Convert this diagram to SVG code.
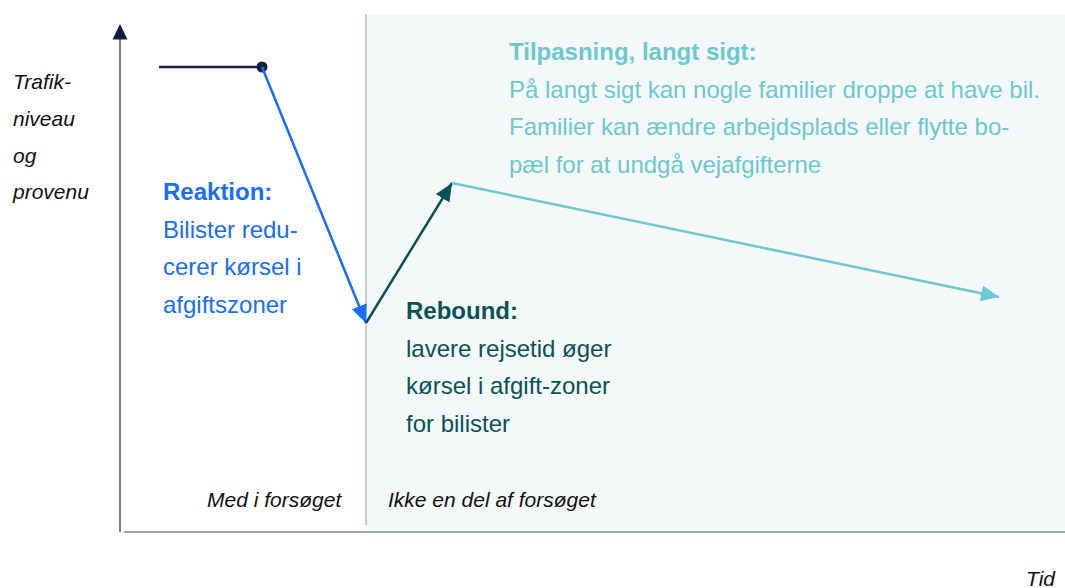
<svg xmlns="http://www.w3.org/2000/svg" width="1065" height="588" viewBox="0 0 1065 588">
<style>
.it{font-family:"Liberation Sans",Arial,sans-serif;font-style:italic;font-size:21px;fill:#111}
.tx{font-family:"Liberation Sans",Arial,sans-serif;font-size:24px}
.b{font-weight:bold}
.blue{fill:#1a6ef5}
.dteal{fill:#0b5257}
.lteal{fill:#6cc9cf}
.ln{fill:none;stroke-width:2.5}
</style>
<defs>
<marker id="mBlue" markerUnits="userSpaceOnUse" markerWidth="20" markerHeight="18" refX="18" refY="8" orient="auto"><path d="M0,0 L18,8 L0,16 Z" fill="#1a6ef5"/></marker>
<marker id="mDteal" markerUnits="userSpaceOnUse" markerWidth="20" markerHeight="18" refX="18" refY="8" orient="auto"><path d="M0,0 L18,8 L0,16 Z" fill="#0b5257"/></marker>
<marker id="mLteal" markerUnits="userSpaceOnUse" markerWidth="20" markerHeight="18" refX="18" refY="8" orient="auto"><path d="M0,0 L18,8 L0,16 Z" fill="#6cc9cf"/></marker>
</defs>
<rect width="1065" height="588" fill="#ffffff"/>
<g id="background">
<rect x="367" y="15" width="698" height="515" fill="#f4f8f9"/>
<line x1="366" y1="14" x2="366" y2="525" stroke="#c8ccd2" stroke-width="2"/>
</g>
<g id="axes">
<line x1="120" y1="38" x2="120" y2="532" stroke="#4f5970" stroke-width="1.5"/>
<path d="M120,24 L127.5,39.5 L112.5,39.5 Z" fill="#0d1b3e"/>
<line x1="124" y1="532" x2="1065" y2="532" stroke="#7d8aa0" stroke-width="1.5"/>
</g>
<g id="connectors">
<line class="ln" x1="159" y1="67" x2="262" y2="67" stroke="#14213d"/>
<circle cx="262" cy="67" r="5.5" fill="#14213d"/>
<line class="ln" x1="262" y1="67" x2="366" y2="323" stroke="#1a6ef5" marker-end="url(#mBlue)"/>
<line class="ln" x1="366" y1="323" x2="452" y2="183" stroke="#0b5257" marker-end="url(#mDteal)"/>
<line class="ln" x1="452" y1="183" x2="999" y2="297" stroke="#6cc9cf" marker-end="url(#mLteal)"/>
</g>
<g id="y-label">
<text class="it" x="13" y="89">Trafik-</text>
<text class="it" x="13" y="126">niveau</text>
<text class="it" x="13" y="162.5">og</text>
<text class="it" x="13" y="199">provenu</text>
</g>
<g id="reaktion">
<text class="tx b blue" x="163" y="200">Reaktion:</text>
<text class="tx blue" x="163" y="237.5">Bilister redu-</text>
<text class="tx blue" x="163" y="275">cerer kørsel i</text>
<text class="tx blue" x="163" y="312.5">afgiftszoner</text>
</g>
<g id="rebound">
<text class="tx b dteal" x="406" y="319">Rebound:</text>
<text class="tx dteal" x="406" y="356.5">lavere rejsetid øger</text>
<text class="tx dteal" x="406" y="394">kørsel i afgift-zoner</text>
<text class="tx dteal" x="406" y="431.5">for bilister</text>
</g>
<g id="tilpasning">
<text class="tx b lteal" x="509" y="60">Tilpasning, langt sigt:</text>
<text class="tx lteal" x="509" y="97.5">På langt sigt kan nogle familier droppe at have bil.</text>
<text class="tx lteal" x="509" y="135">Familier kan ændre arbejdsplads eller flytte bo-</text>
<text class="tx lteal" x="509" y="172.5">pæl for at undgå vejafgifterne</text>
</g>
<g id="x-labels">
<text class="it" x="207" y="507">Med i forsøget</text>
<text class="it" x="388" y="507">Ikke en del af forsøget</text>
<text class="it" x="1026" y="586">Tid</text>
</g>
</svg>
